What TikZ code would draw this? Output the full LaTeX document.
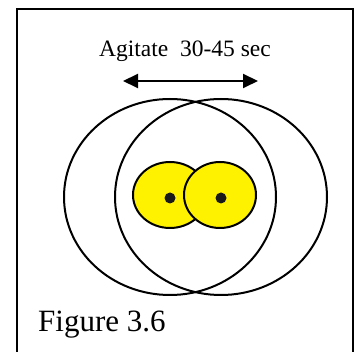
\documentclass[tikz,border=0pt]{standalone}
\usepackage{fontspec}
\setmainfont{Liberation Serif}
\usetikzlibrary{arrows.meta}
\begin{document}
\begin{tikzpicture}[x=1pt,y=-1pt,
  outline/.style={draw=black,line width=2pt},
  lens/.style={outline,fill=yellow},
  dotmark/.style={fill=black!90},
  agarrow/.style={line width=2pt,{Triangle[length=15pt,width=14pt]}-{Triangle[length=15pt,width=14pt]}}]
\useasboundingbox (0,0) rectangle (359,352);
\fill[white] (0,0) rectangle (359,352);
\draw[line width=1.5pt] (17,352) -- (17,9) -- (353,9) -- (353,352);
\node[font=\fontsize{23.5}{26}\selectfont,anchor=base] (lbl) at (185,57) {Agitate\ \ 30-45 sec};
\coordinate (aL) at (123,81);
\coordinate (aR) at (258,81);
\draw[agarrow] (aL) -- (aR);
\draw[outline] (170,197) ellipse [x radius=106, y radius=98];
\draw[outline] (221,197) ellipse [x radius=106, y radius=98];
\draw[lens] (170,195) ellipse [x radius=37, y radius=33];
\draw[lens] (220,195) ellipse [x radius=36, y radius=33];
\fill[dotmark] (170,198) circle (5.5);
\fill[dotmark] (221,198) circle (5.5);
\node[font=\fontsize{31}{34}\selectfont,anchor=base west,inner sep=0pt] (fig) at (38,332) {Figure 3.6};
\end{tikzpicture}
\end{document}
